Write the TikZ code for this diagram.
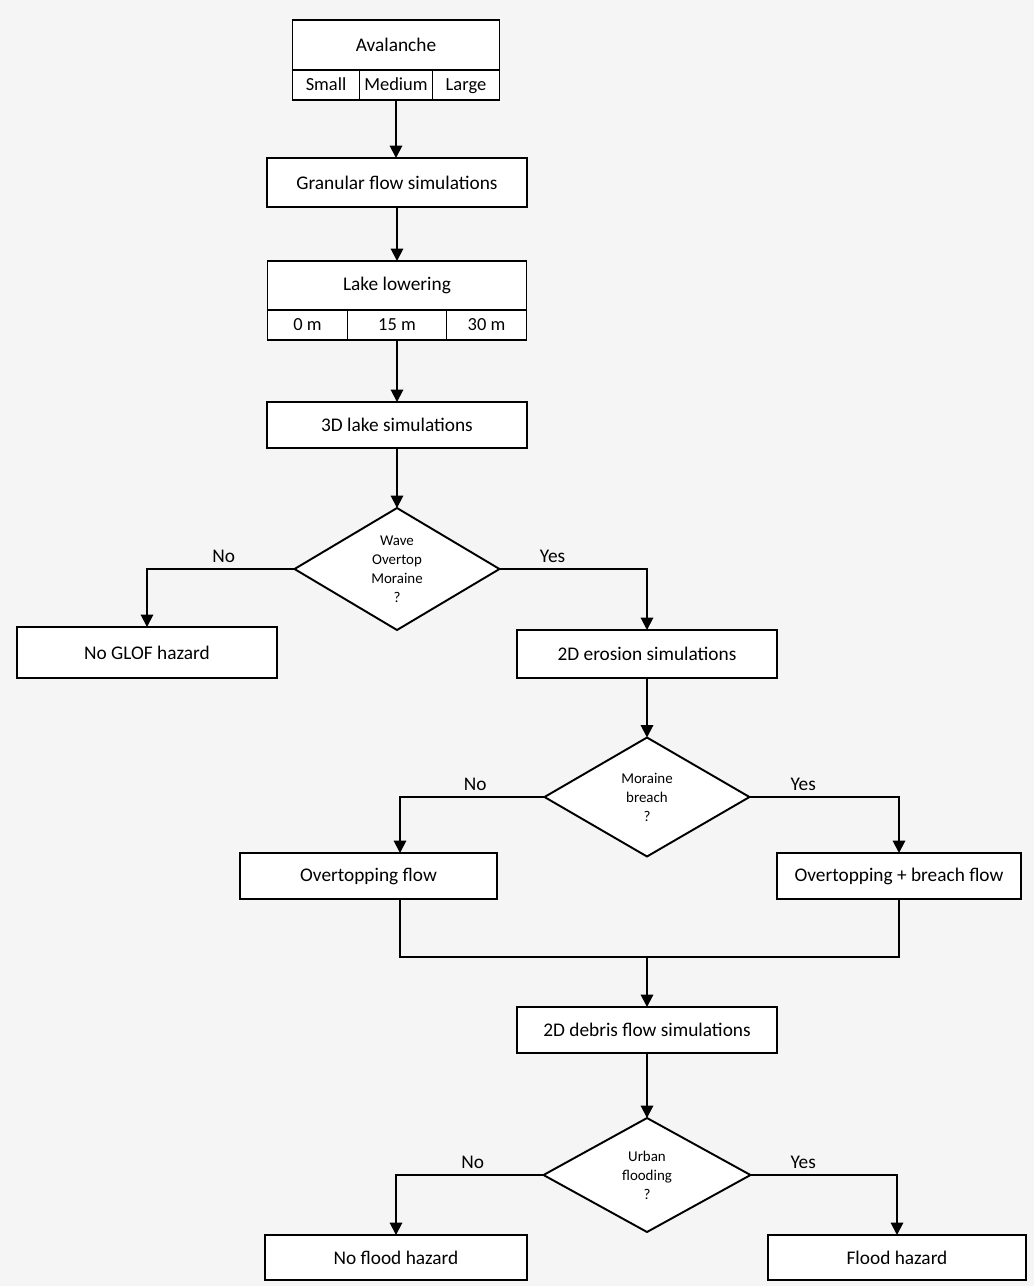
\documentclass[tikz,border=0pt]{standalone}
\usepackage{fontspec}
\setmainfont{Carlito}
\usepackage{tikz}
\usetikzlibrary{shapes.geometric,arrows.meta}
\tikzset{
    sim-box/.style = {draw, fill=white, line width=1.1pt, rectangle, inner sep=2pt, outer sep=0pt, minimum width=5.2cm, minimum height=0.94cm, font=\fontsize{11}{13}\selectfont},
    cell-box/.style = {draw, fill=white, line width=1.1pt, rectangle, inner sep=1pt, outer sep=0pt, minimum height=0.6cm, text height=1.6ex, text depth=0.4ex, anchor=north west, font=\fontsize{10.5}{12}\selectfont},
    decision/.style = {draw, fill=white, line width=1.1pt, diamond, aspect=1.7, inner sep=0pt, outer sep=0pt, align=center, font=\fontsize{8.5}{10.8}\selectfont},
    branch-label/.style = {above, inner sep=3pt, font=\fontsize{11}{13}\selectfont},
    flow-line/.style = {line width=1.1pt},
    flow-arrow/.style = {line width=1.1pt, -{Triangle[width=7pt,length=7pt]}},
}

\begin{document}
\begin{tikzpicture}[x=0.02cm, y=-0.02cm]
\fill[black!4] (0,0) rectangle (1034,1286);

% avalanche and lake scenarios
\node[sim-box, minimum width=4.14cm, minimum height=1cm] (avalanche) at (396,45) {Avalanche};
\node[cell-box, minimum width=1.34cm] (small) at (avalanche.south west) {Small};
\node[cell-box, minimum width=1.46cm] (medium) at (small.north east) {Medium};
\node[cell-box, minimum width=1.34cm] (large) at (medium.north east) {Large};

\node[sim-box, minimum height=0.98cm] (granular) at (397,182.5) {Granular flow simulations};

\node[sim-box, minimum width=5.18cm, minimum height=0.98cm] (lowering) at (397,285.5) {Lake lowering};
\node[cell-box, minimum width=1.6cm] (zero) at (lowering.south west) {0 m};
\node[cell-box, minimum width=1.98cm] (fifteen) at (zero.north east) {15 m};
\node[cell-box, minimum width=1.6cm] (thirty) at (fifteen.north east) {30 m};

\node[sim-box, minimum height=0.92cm] (lake3d) at (397,425) {3D lake simulations};

% decisions
\node[decision, minimum width=4.1cm, minimum height=2.44cm] (overtop) at (397,569) {Wave\\Overtop\\Moraine\\?};
\node[sim-box, minimum height=1.02cm] (noglof) at (147,652.5) {No GLOF hazard};
\node[sim-box, minimum height=0.96cm] (erosion) at (647,654) {2D erosion simulations};

\node[decision, minimum width=4.1cm, minimum height=2.38cm] (breach) at (647,797) {Moraine\\breach\\?};
\node[sim-box, minimum width=5.14cm, minimum height=0.92cm] (ovflow) at (368.5,876) {Overtopping flow};
\node[sim-box, minimum width=4.88cm, minimum height=0.92cm] (brflow) at (899,876) {Overtopping + breach flow};
\coordinate (ov-in) at (400,853);
\coordinate (ov-out) at (400,899);
\coordinate (merge) at (647,957);

\node[sim-box, minimum height=0.92cm] (debris) at (647,1030) {2D debris flow simulations};
\node[decision, minimum width=4.14cm, minimum height=2.28cm] (flooding) at (647,1175) {Urban\\flooding\\?};
\node[sim-box, minimum width=5.24cm, minimum height=0.9cm] (noflood) at (396,1257.5) {No flood hazard};
\node[sim-box, minimum width=5.16cm, minimum height=0.9cm] (flood) at (897,1257.5) {Flood hazard};

% connectors
\draw[flow-arrow] (medium.south) -- (medium.south |- granular.north);
\draw[flow-arrow] (granular.south) -- (lowering.north);
\draw[flow-arrow] (fifteen.south) -- (fifteen.south |- lake3d.north);
\draw[flow-arrow] (lake3d.south) -- (overtop.north);
\draw[flow-arrow] (overtop.west) -| (noglof.north) node[branch-label, pos=0.24] {No};
\draw[flow-arrow] (overtop.east) -| (erosion.north) node[branch-label, pos=0.18] {Yes};
\draw[flow-arrow] (erosion.south) -- (breach.north);
\draw[flow-arrow] (breach.west) -| (ov-in) node[branch-label, pos=0.24] {No};
\draw[flow-arrow] (breach.east) -| (brflow.north) node[branch-label, pos=0.18] {Yes};
\draw[flow-line] (ov-out) |- (merge) -| (brflow.south);
\draw[flow-arrow] (merge) -- (debris.north);
\draw[flow-arrow] (debris.south) -- (flooding.north);
\draw[flow-arrow] (flooding.west) -| (noflood.north) node[branch-label, pos=0.24] {No};
\draw[flow-arrow] (flooding.east) -| (flood.north) node[branch-label, pos=0.18] {Yes};
\end{tikzpicture}
\end{document}
